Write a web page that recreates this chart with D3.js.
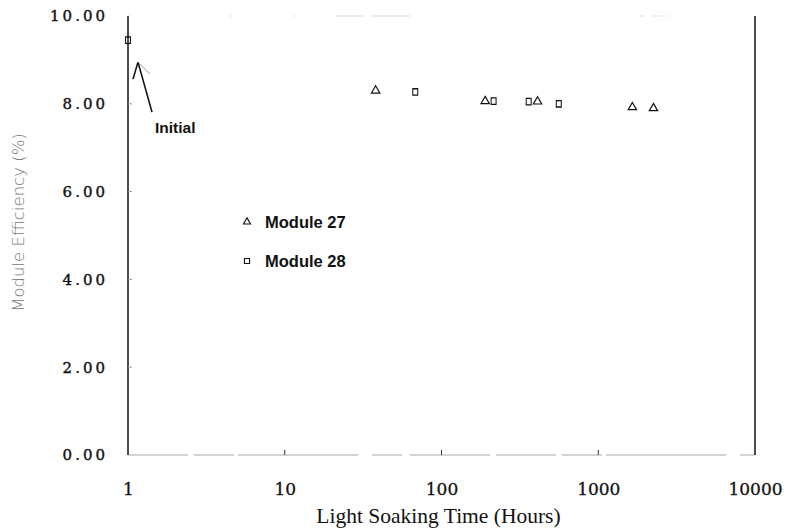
<!DOCTYPE html>
<html>
<head>
<meta charset="utf-8">
<script src="https://cdn.jsdelivr.net/npm/d3@7"></script>
<style>
  body { margin: 0; background: #fff; }
  #vis { width: 793px; height: 528px; }
</style>
</head>
<body>
<div id="vis"></div>
<script>
// data
var m27Hours = [38, 190, 410, 1650, 2250];
var m27Eff = [8.30, 8.06, 8.05, 7.92, 7.90];
var m28Hours = [1, 68, 215, 360, 560];
var m28Eff = [9.45, 8.27, 8.06, 8.05, 8.00];
var xTicks = [1, 10, 100, 1000, 10000];
var yTicks = [0, 2, 4, 6, 8, 10];
var seriesNames = ['Module 27', 'Module 28'];

var margin = { top: 16, bottom: 73, left: 128, right: 38 };
var width = 793 - margin.left - margin.right;
var height = 528 - margin.top - margin.bottom;

var svg = d3.select('#vis')
    .append('svg')
    .attr('width', 793)
    .attr('height', 528)
    .append('g')
    .attr('transform', 'translate(' + margin.left + ',' + margin.top + ')');

var x_scale = d3.scaleLog()
    .domain([1, 10000])
    .range([0, width]);

var y_scale = d3.scaleLinear()
    .domain([0, 10])
    .range([height, 0]);

// frame: scanned copy, top + bottom faded
svg.append('line')
    .attr('x1', 0).attr('x2', width)
    .attr('y1', 0).attr('y2', 0)
    .attr('stroke', '#ddd')
    .attr('stroke-dasharray', '2,100,3,60,2,40,30,5,40,230,5,8,10,3')
    .attr('stroke-width', 1);
svg.append('line')
    .attr('x1', 0).attr('x2', width)
    .attr('y1', height).attr('y2', height)
    .attr('stroke', '#aaa')
    .attr('stroke-dasharray', '60,6,40,4,120,14,30,8,80,6')
    .attr('stroke-width', 1.2);
svg.append('line')
    .attr('x1', 0).attr('x2', 0)
    .attr('y1', 0).attr('y2', height)
    .attr('stroke', '#111')
    .attr('stroke-width', 1.5);
svg.append('line')
    .attr('x1', width).attr('x2', width)
    .attr('y1', 0).attr('y2', height)
    .attr('stroke', '#111')
    .attr('stroke-width', 1.5);

var x_axis = d3.axisBottom(x_scale)
    .tickValues(xTicks)
    .tickFormat(d3.format('d'))
    .tickSize(0)
    .tickPadding(28);

var y_axis = d3.axisLeft(y_scale)
    .tickValues(yTicks)
    .tickFormat(d3.format('.2f'))
    .tickSize(0)
    .tickPadding(20);

var gx = svg.append('g')
    .attr('class', 'x axis')
    .attr('transform', 'translate(0,' + height + ')')
    .call(x_axis);
gx.select('.domain').remove();
gx.selectAll('text')
    .attr('font-family', '"DejaVu Serif", serif')
    .attr('font-size', 17)
    .attr('fill', '#111')
    .attr('stroke', '#111')
    .attr('stroke-width', 0.3);

// small inward tick marks
svg.selectAll('.xtick')
    .data(xTicks.slice(1, 4))
    .enter()
    .append('line')
    .attr('x1', function(d) { return x_scale(d); })
    .attr('x2', function(d) { return x_scale(d); })
    .attr('y1', height)
    .attr('y2', height - 5)
    .attr('stroke', '#333');

var gy = svg.append('g')
    .attr('class', 'y axis')
    .call(y_axis);
gy.select('.domain').remove();
gy.selectAll('text')
    .attr('font-family', '"DejaVu Serif", serif')
    .attr('font-size', 15)
    .attr('letter-spacing', 3)
    .attr('fill', '#111')
    .attr('stroke', '#111')
    .attr('stroke-width', 0.4);

svg.selectAll('.ytick')
    .data(yTicks.slice(1, 5))
    .enter()
    .append('line')
    .attr('x1', 0)
    .attr('x2', 4)
    .attr('y1', function(d) { return y_scale(d); })
    .attr('y2', function(d) { return y_scale(d); })
    .attr('stroke', '#999');

// axis titles
svg.append('text')
    .attr('x', width / 2 - 3)
    .attr('y', height + 68)
    .attr('text-anchor', 'middle')
    .attr('font-family', '"Liberation Serif", "Times New Roman", serif')
    .attr('font-size', 21.5)
    .attr('fill', '#111')
    .text('Light Soaking Time (Hours)');

svg.append('text')
    .attr('transform', 'translate(' + (-104) + ',' + (height / 2 - 13) + ') rotate(-90)')
    .attr('text-anchor', 'middle')
    .attr('font-family', '"DejaVu Sans", sans-serif')
    .attr('font-size', 16.5)
    .attr('font-weight', 200)
    .attr('fill', '#777')
    .text('Module Efficiency (%)');

var tri = d3.symbol().type(d3.symbolTriangle).size(30);
var sq = d3.symbol().type(d3.symbolSquare).size(34);

var m27 = m27Hours.map(function(h, i) { return { h: h, v: m27Eff[i] }; });
var m28 = m28Hours.map(function(h, i) { return { h: h, v: m28Eff[i] }; });

svg.selectAll('.m27')
    .data(m27)
    .enter()
    .append('path')
    .attr('class', 'm27')
    .attr('d', tri)
    .attr('transform', function(d) {
        return 'translate(' + x_scale(d.h) + ',' + y_scale(d.v) + ')';
    })
    .attr('fill', 'none')
    .attr('stroke', '#111')
    .attr('stroke-width', 1.2);

svg.selectAll('.m28')
    .data(m28)
    .enter()
    .append('path')
    .attr('class', 'm28')
    .attr('d', sq)
    .attr('transform', function(d) {
        return 'translate(' + x_scale(d.h) + ',' + y_scale(d.v) + ') scale(0.85,1.1)';
    })
    .attr('fill', 'none')
    .attr('stroke', '#111')
    .attr('stroke-width', 1.2);

// legend
var legend = svg.selectAll('.legend')
    .data(seriesNames)
    .enter()
    .append('g')
    .attr('class', 'legend')
    .attr('transform', function(d, i) {
        return 'translate(' + 119 + ',' + (206 + i * 39) + ')';
    });

legend.append('path')
    .attr('d', function(d, i) { return i === 0 ? d3.symbol().type(d3.symbolTriangle).size(22)() : d3.symbol().type(d3.symbolSquare).size(26)(); })
    .attr('fill', 'none')
    .attr('stroke', '#111')
    .attr('stroke-width', 1.1);

legend.append('text')
    .attr('x', 18)
    .attr('y', 6)
    .attr('font-family', '"Liberation Sans", Arial, sans-serif')
    .attr('font-size', 16.5)
    .attr('font-weight', 'bold')
    .attr('fill', '#111')
    .text(function(d) { return d; });

// "Initial" annotation with arrow
var ax0 = x_scale(m28Hours[0]) + 24, ay0 = y_scale(m28Eff[0]) + 72;
var ax1 = x_scale(m28Hours[0]) + 10, ay1 = y_scale(m28Eff[0]) + 22;
svg.append('line')
    .attr('x1', ax0).attr('y1', ay0)
    .attr('x2', ax1).attr('y2', ay1)
    .attr('stroke', '#111')
    .attr('stroke-width', 1.6);
svg.append('line')
    .attr('x1', ax1).attr('y1', ay1)
    .attr('x2', ax1 - 5).attr('y2', ay1 + 17)
    .attr('stroke', '#111')
    .attr('stroke-width', 1.6);
svg.append('line')
    .attr('x1', ax1).attr('y1', ay1)
    .attr('x2', ax1 + 12).attr('y2', ay1 + 12)
    .attr('stroke', '#999')
    .attr('stroke-width', 1);

svg.append('text')
    .attr('x', ax0 + 3)
    .attr('y', ay0 + 21)
    .attr('font-family', '"Liberation Sans", Arial, sans-serif')
    .attr('font-size', 15.5)
    .attr('font-weight', 'bold')
    .attr('fill', '#111')
    .text('Initial');
</script>
</body>
</html>
